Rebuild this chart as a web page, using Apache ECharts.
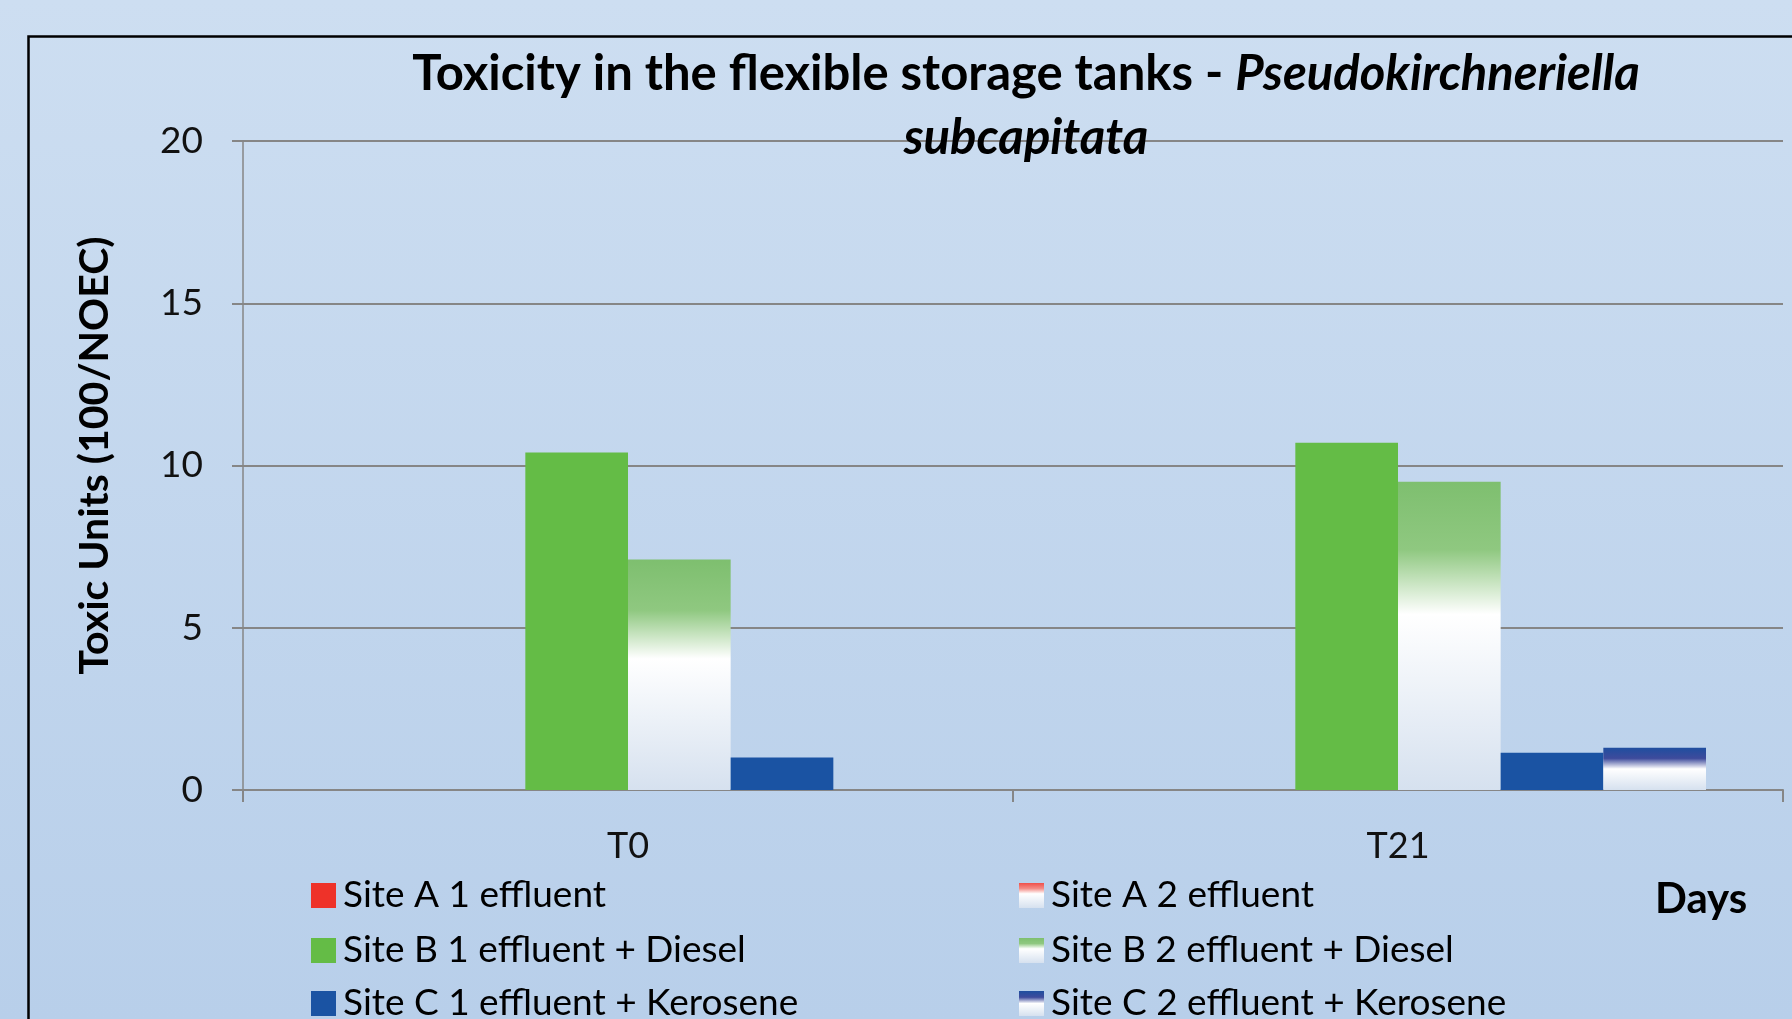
<!DOCTYPE html>
<html>
<head>
<meta charset="utf-8">
<title>Toxicity in the flexible storage tanks</title>
<script src="https://cdn.jsdelivr.net/npm/echarts/dist/echarts.min.js"></script>
<style>
  html, body { margin: 0; padding: 0; }
  #main { width: 1792px; height: 1019px; }
</style>
</head>
<body>
<div id="main"></div>
<script>
// values
var categories = ['T0', 'T21'];
var yTicks = [0, 5, 10, 15, 20];
var seriesNames = [
    'Site A 1 effluent', 'Site A 2 effluent',
    'Site B 1 effluent + Diesel', 'Site B 2 effluent + Diesel',
    'Site C 1 effluent + Kerosene', 'Site C 2 effluent + Kerosene'
];
var siteA1 = [0, 0];
var siteA2 = [0, 0];
var siteB1 = [10.4, 10.7];
var siteB2 = [7.1, 9.5];
var siteC1 = [1.0, 1.15];
var siteC2 = [0, 1.3];

var font = 'Lato, "Open Sans", sans-serif';

function fade(top, mid) {
    // colour at the top, fading to white and then a pale grey-blue at the base
    return new echarts.graphic.LinearGradient(0, 0, 0, 1, [
        {offset: 0, color: top},
        {offset: 0.22, color: mid},
        {offset: 0.43, color: '#ffffff'},
        {offset: 1, color: '#d6e1ef'}
    ]);
}

function bar(name, data, color) {
    return {
        name: name,
        type: 'bar',
        data: data,
        barGap: '0%',
        barCategoryGap: '20%',
        itemStyle: {color: color}
    };
}

// one legend per entry so the two columns line up like the original
var legendLeft = [306, 1014];
var legendTop = [872, 927, 980];
var legends = seriesNames.map(function (name, i) {
    return {
        data: [name],
        icon: 'rect',
        left: legendLeft[i % 2],
        top: legendTop[Math.floor(i / 2)],
        itemWidth: 25,
        itemHeight: 25,
        selectedMode: false,
        textStyle: {fontFamily: font, fontSize: 37, color: '#000', lineHeight: 37, padding: [0, 0, 0, 2]}
    };
});

var myChart = echarts.init(document.getElementById('main'));

myChart.setOption({
    backgroundColor: new echarts.graphic.LinearGradient(0, 0, 0, 1, [
        {offset: 0, color: '#cddef1'},
        {offset: 1, color: '#b8cfea'}
    ]),
    animation: false,
    title: {
        left: 1021,
        top: 37,
        textAlign: 'center',
        text: '{a|Toxicity in the flexible storage tanks - }{b|Pseudokirchneriella}\n{b|subcapitata}',
        textStyle: {
            rich: {
                a: {fontFamily: font, fontWeight: 'bold', fontSize: 49, color: '#000', lineHeight: 64},
                b: {fontFamily: font, fontWeight: 'bold', fontStyle: 'italic', fontSize: 49, color: '#000', lineHeight: 64}
            }
        }
    },
    grid: {left: 243, right: 9, top: 141, bottom: 229},
    xAxis: {
        type: 'category',
        data: categories,
        axisLine: {lineStyle: {color: '#868686', width: 2}},
        axisTick: {show: true, length: 12, lineStyle: {color: '#868686', width: 2}},
        axisLabel: {fontFamily: font, fontSize: 36, color: '#111', margin: 38}
    },
    yAxis: {
        type: 'value',
        min: yTicks[0],
        max: yTicks[yTicks.length - 1],
        interval: 5,
        name: 'Toxic Units (100/NOEC)',
        nameLocation: 'middle',
        nameRotate: 90,
        nameGap: 128,
        nameTextStyle: {fontFamily: font, fontWeight: 'bold', fontSize: 41, color: '#000', padding: [0, 0, 0, 20]},
        axisLine: {show: true, lineStyle: {color: '#868686', width: 1.5}},
        axisTick: {show: true, length: 11, lineStyle: {color: '#868686', width: 2}},
        axisLabel: {fontFamily: font, fontSize: 37, color: '#111', margin: 40},
        splitLine: {lineStyle: {color: '#868686', width: 2}}
    },
    legend: legends,
    graphic: [{
        type: 'rect',
        left: 26,
        top: 34,
        shape: {width: 1800, height: 1100},
        style: {fill: 'none', stroke: '#000', lineWidth: 2.5},
        silent: true
    }, {
        type: 'text',
        left: 1655,
        top: 878,
        style: {text: 'Days', fontFamily: font, fontWeight: 'bold', fontSize: 42, fill: '#000'}
    }],
    series: [
        bar(seriesNames[0], siteA1, '#ee3229'),
        bar(seriesNames[1], siteA2, fade('#f0504a', '#f38c86')),
        bar(seriesNames[2], siteB1, '#64bc46'),
        bar(seriesNames[3], siteB2, fade('#7ebf6f', '#8fc880')),
        bar(seriesNames[4], siteC1, '#1a53a3'),
        bar(seriesNames[5], siteC2, new echarts.graphic.LinearGradient(0, 0, 0, 1, [
            {offset: 0, color: '#1f4e9f'},
            {offset: 0.25, color: '#3e4b9c'},
            {offset: 0.5, color: '#ffffff'},
            {offset: 1, color: '#d6e1ef'}
        ]))
    ]
});
</script>
</body>
</html>
